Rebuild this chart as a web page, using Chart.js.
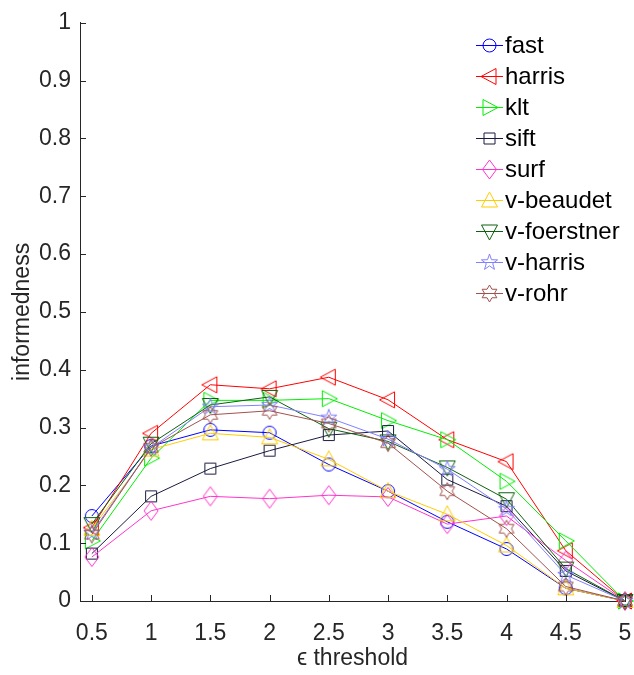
<!DOCTYPE html>
<html>
<head>
<meta charset="utf-8">
<script src="https://cdn.jsdelivr.net/npm/chart.js@4/dist/chart.umd.min.js"></script>
<style>
  html, body { margin: 0; padding: 0; background: #ffffff; }
  #wrap { width: 634px; height: 675px; position: relative; }
</style>
</head>
<body>
<div id="wrap"><canvas id="c" width="634" height="675"></canvas></div>
<script>
// ---- data ----
const thresholds = [0.5, 1, 1.5, 2, 2.5, 3, 3.5, 4, 4.5, 5];
const seriesNames = ["fast", "harris", "klt", "sift", "surf", "v-beaudet", "v-foerstner", "v-harris", "v-rohr"];
const fast       = [0.147, 0.268, 0.296, 0.291, 0.236, 0.190, 0.137, 0.090, 0.022, 0];
const harris     = [0.127, 0.290, 0.374, 0.367, 0.387, 0.348, 0.279, 0.241, 0.087, 0];
const klt        = [0.104, 0.247, 0.347, 0.347, 0.350, 0.312, 0.279, 0.207, 0.104, 0];
const sift       = [0.082, 0.181, 0.229, 0.260, 0.287, 0.294, 0.210, 0.164, 0.052, 0];
const surf       = [0.076, 0.156, 0.181, 0.177, 0.183, 0.180, 0.133, 0.147, 0.070, 0];
const vBeaudet   = [0.125, 0.262, 0.290, 0.283, 0.245, 0.190, 0.150, 0.096, 0.022, 0];
const vFoerstner = [0.133, 0.272, 0.339, 0.353, 0.298, 0.276, 0.231, 0.176, 0.056, 0];
const vHarris    = [0.118, 0.265, 0.336, 0.339, 0.317, 0.280, 0.228, 0.159, 0.045, 0];
const vRohr      = [0.115, 0.265, 0.322, 0.329, 0.307, 0.273, 0.190, 0.125, 0.025, 0];
const seriesValues = [fast, harris, klt, sift, surf, vBeaudet, vFoerstner, vHarris, vRohr];
const xTicks = [0.5, 1, 1.5, 2, 2.5, 3, 3.5, 4, 4.5, 5];
const yTicks = [0, 0.1, 0.2, 0.3, 0.4, 0.5, 0.6, 0.7, 0.8, 0.9, 1];

// ---- styles ----
const colors  = ["#0000ff", "#ff0000", "#00ee00", "#1a1a40", "#ff33cc", "#ffcc00", "#0d600d", "#8080ff", "#a0524d"];
const markers = ["circle", "tleft", "tright", "square", "diamond", "tup", "tdown", "pentagram", "hexagram"];
const FONT = '"Liberation Sans", Arial, Helvetica, sans-serif';
const AXIS = "#262626";

function markerPath(ctx, kind, cx, cy) {
  ctx.beginPath();
  if (kind === "circle") {
    ctx.arc(cx, cy, 6.5, 0, Math.PI * 2);
  } else if (kind === "square") {
    ctx.rect(cx - 5.5, cy - 5.5, 11, 11);
  } else if (kind === "diamond") {
    ctx.moveTo(cx, cy - 9.5); ctx.lineTo(cx + 7, cy); ctx.lineTo(cx, cy + 9.5); ctx.lineTo(cx - 7, cy); ctx.closePath();
  } else if (kind.startsWith("t")) {
    const pts = [[0, -8.5], [8, 6.5], [-8, 6.5]];
    let ang = 0;
    if (kind === "tleft") ang = -Math.PI / 2;
    if (kind === "tright") ang = Math.PI / 2;
    if (kind === "tdown") ang = Math.PI;
    pts.forEach((p, i) => {
      const x = cx + p[0] * Math.cos(ang) - p[1] * Math.sin(ang);
      const y = cy + p[0] * Math.sin(ang) + p[1] * Math.cos(ang);
      if (i === 0) ctx.moveTo(x, y); else ctx.lineTo(x, y);
    });
    ctx.closePath();
  } else if (kind === "pentagram") {
    const R = 8.5, r = 3.4;
    for (let i = 0; i < 10; i++) {
      const a = -Math.PI / 2 + i * Math.PI / 5;
      const rr = i % 2 === 0 ? R : r;
      const x = cx + rr * Math.cos(a), y = cy + rr * Math.sin(a);
      if (i === 0) ctx.moveTo(x, y); else ctx.lineTo(x, y);
    }
    ctx.closePath();
  } else if (kind === "hexagram") {
    const R = 8.5, r = R / Math.sqrt(3);
    for (let i = 0; i < 12; i++) {
      const a = -Math.PI / 2 + i * Math.PI / 6;
      const rr = i % 2 === 0 ? R : r;
      const x = cx + rr * Math.cos(a), y = cy + rr * Math.sin(a);
      if (i === 0) ctx.moveTo(x, y); else ctx.lineTo(x, y);
    }
    ctx.closePath();
  }
}

function makeMarker(kind, color) {
  const cv = document.createElement("canvas");
  cv.width = 24; cv.height = 24;
  const g = cv.getContext("2d");
  g.strokeStyle = color; g.lineWidth = 1;
  markerPath(g, kind, 12, 12);
  g.stroke();
  return cv;
}
const markerImages = markers.map((m, i) => makeMarker(m, colors[i]));

const datasets = seriesNames.map((name, i) => ({
  label: name,
  data: thresholds.map((t, j) => ({ x: t, y: seriesValues[i][j] })),
  borderColor: colors[i],
  backgroundColor: colors[i],
  borderWidth: 1,
  pointStyle: markerImages[i],
  pointRadius: 8,
  pointHoverRadius: 8,
  tension: 0,
  fill: false,
  clip: false,
  order: seriesNames.length - i
}));

// inward tick marks
const innerTicks = {
  id: "innerTicks",
  afterDraw(chart) {
    const ctx = chart.ctx, xs = chart.scales.x, ys = chart.scales.y, a = chart.chartArea;
    ctx.save();
    ctx.strokeStyle = AXIS; ctx.lineWidth = 1;
    ctx.beginPath();
    xTicks.forEach(v => { const px = Math.round(xs.getPixelForValue(v)) + 0.5; ctx.moveTo(px, a.bottom); ctx.lineTo(px, a.bottom - 6); });
    yTicks.forEach(v => { const py = Math.round(ys.getPixelForValue(v)) + 0.5; ctx.moveTo(a.left, py); ctx.lineTo(a.left + 6, py); });
    ctx.stroke();
    ctx.restore();
  }
};

// MATLAB-style legend (line + marker + text)
const matLegend = {
  id: "matLegend",
  afterDraw(chart) {
    const ctx = chart.ctx;
    ctx.save();
    ctx.font = "24px " + FONT;
    ctx.textBaseline = "middle";
    ctx.textAlign = "left";
    seriesNames.forEach((name, i) => {
      const y = 45 + i * 31;
      ctx.strokeStyle = colors[i]; ctx.lineWidth = 1;
      ctx.beginPath(); ctx.moveTo(476, y + 0.5); ctx.lineTo(503, y + 0.5); ctx.stroke();
      markerPath(ctx, markers[i], 489.5, y + 0.5); ctx.stroke();
      ctx.fillStyle = "#000000";
      ctx.fillText(name, 505, y + 1);
    });
    ctx.restore();
  }
};

new Chart(document.getElementById("c"), {
  type: "line",
  data: { datasets },
  options: {
    responsive: false,
    animation: false,
    events: [],
    layout: { padding: { top: 15, right: 8, left: 0, bottom: 0 } },
    plugins: { legend: { display: false }, tooltip: { enabled: false } },
    scales: {
      x: {
        type: "linear", min: 0.4, max: 5,
        afterBuildTicks: s => { s.ticks = xTicks.map(v => ({ value: v })); },
        afterFit: s => { s.height = 74; s.paddingRight = 0; s.paddingLeft = 0; },
        grid: { display: true, drawOnChartArea: false, drawTicks: false, color: AXIS },
        border: { display: true, color: AXIS, width: 1 },
        ticks: { color: AXIS, font: { family: FONT, size: 23 }, padding: 19, maxRotation: 0, autoSkip: false,
                 callback: v => String(v) },
        title: { display: true, text: "ϵ threshold", color: AXIS, font: { family: FONT, size: 23 }, padding: { top: 0, bottom: 3 } }
      },
      y: {
        type: "linear", min: 0, max: 1,
        afterBuildTicks: s => { s.ticks = yTicks.map(v => ({ value: v })); },
        afterFit: s => { s.width = 80; },
        grid: { display: true, drawOnChartArea: false, drawTicks: false, color: AXIS },
        border: { display: true, color: AXIS, width: 1 },
        ticks: { color: AXIS, font: { family: FONT, size: 23 }, padding: 9, autoSkip: false,
                 callback: v => String(v) },
        title: { display: true, text: "informedness", color: AXIS, font: { family: FONT, size: 23 }, padding: { top: 9, bottom: 9 } }
      }
    }
  },
  plugins: [innerTicks, matLegend]
});
</script>
</body>
</html>
